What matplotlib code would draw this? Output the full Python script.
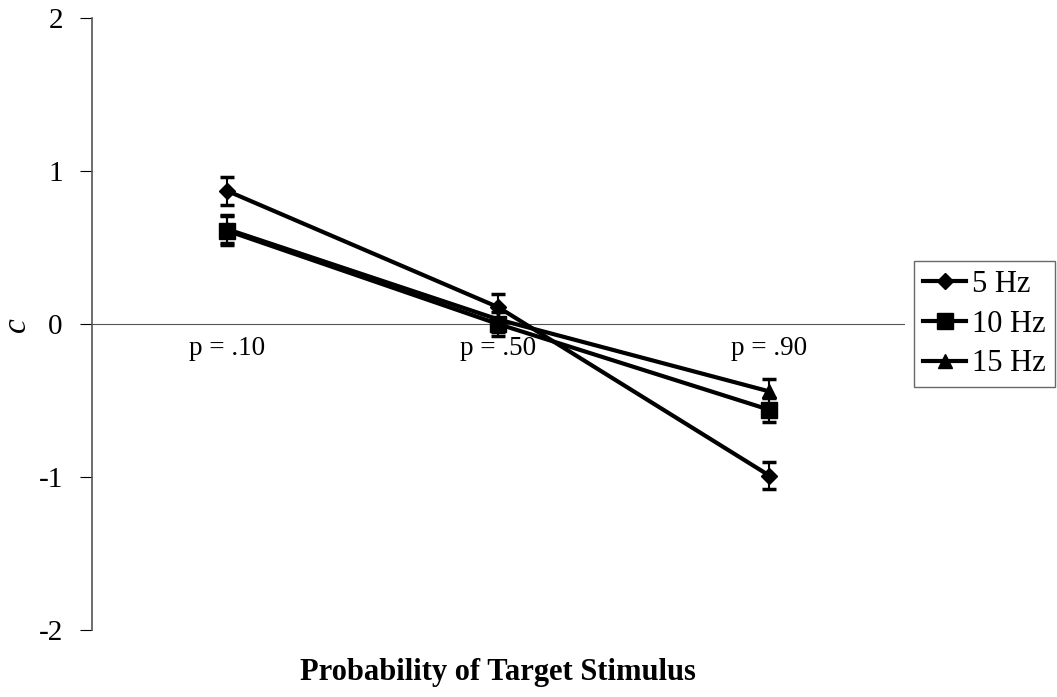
import numpy as np
import matplotlib.pyplot as plt
from matplotlib.lines import Line2D

plt.rcParams['font.family'] = ['Liberation Serif', 'DejaVu Serif']

# conditions along x
categories = ['p = .10', 'p = .50', 'p = .90']
series = ['5 Hz', '10 Hz', '15 Hz']

# criterion c for each stimulation rate
c_5hz = [0.87, 0.11, -0.99]
c_10hz = [0.61, 0.00, -0.56]
c_15hz = [0.62, 0.03, -0.44]

# standard error
se_5hz = [0.09, 0.09, 0.09]
se_10hz = [0.095, 0.08, 0.08]
se_15hz = [0.09, 0.08, 0.08]

markers = ['D', 's', '^']
msizes = [8, 11, 10]

fig = plt.figure(figsize=(10.57, 6.97), dpi=100)
ax = fig.add_axes([0.087, 0.096, 0.769, 0.878])

x = np.arange(len(categories)) + 0.5
values = [c_5hz, c_10hz, c_15hz]
errors = [se_5hz, se_10hz, se_15hz]

handles = []
for name, vals, errs, m, ms in zip(series, values, errors, markers, msizes):
    ax.errorbar(x, vals, yerr=errs, color='black', lw=3, marker=m,
                markersize=ms, capsize=5, elinewidth=1.5, capthick=2.5)
    handles.append(Line2D([], [], color='black', lw=3, marker=m,
                          markersize=ms, label=name))

ax.axhline(0, color='#555555', lw=0.8, zorder=0)

ax.set_xlim(0, 3)
ax.set_ylim(-2, 2)
ax.set_yticks([-2, -1, 0, 1, 2])
ax.set_yticklabels(['-2', '-1', '0', '1', '2'])
ax.set_xticks([])
ax.tick_params(axis='y', labelsize=21, length=9, width=0.8, direction='out', pad=12)

for s in ['top', 'right', 'bottom']:
    ax.spines[s].set_visible(False)
ax.spines['left'].set_color('#555555')
ax.spines['left'].set_linewidth(1.2)

for xi, lab in zip(x, categories):
    ax.text(xi, -0.08, lab, ha='center', va='top', fontsize=19.5)

ax.set_ylabel('c', fontsize=24, style='italic', va='center')
ax.yaxis.set_label_coords(-0.093, 0.5)
ax.set_xlabel('Probability of Target Stimulus', fontsize=22, fontweight='bold')
ax.xaxis.set_label_coords(0.5, -0.045)

leg = ax.legend(handles=handles, loc='center left', bbox_to_anchor=(1.0, 0.5),
                fontsize=22, frameon=True, fancybox=False, edgecolor='#444444',
                handlelength=1.4, handletextpad=0.2, borderpad=0.3,
                labelspacing=0.35, borderaxespad=0.3)
leg.get_frame().set_linewidth(1.0)

fig.savefig('out.png', dpi=100)
